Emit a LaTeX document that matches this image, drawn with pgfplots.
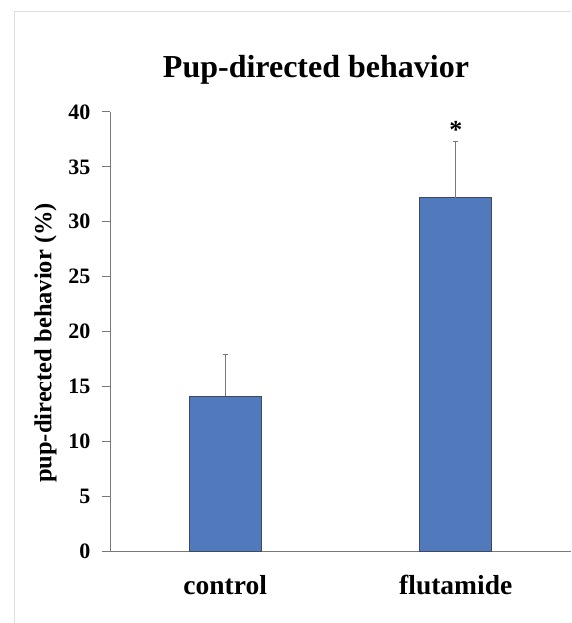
\documentclass[border=0pt]{standalone}
\usepackage{fontspec}
\setmainfont{Liberation Serif}
\usepackage{pgfplots}
\pgfplotsset{compat=1.18}

\definecolor{BarBlue}{RGB}{80,122,188}
\definecolor{BarEdge}{RGB}{62,72,96}
\definecolor{AxisGray}{RGB}{120,120,120}

\begin{document}
\begin{tikzpicture}[x=1pt,y=1pt]
\useasboundingbox (0,0) rectangle (571,623);
\fill[white] (0,0) rectangle (571,623);
% light frame of the original figure
\draw[black!13, line width=1pt] (14,0) -- (14,611) -- (571,611);

\begin{axis}[
    at={(110pt,72pt)}, anchor=south west,
    scale only axis,
    width=461pt, height=439pt,
    xmin=-0.5, xmax=1.5,
    ymin=0, ymax=40,
    ytick={0,5,...,40},
    xtick={0,1},
    xticklabels={control, flutamide},
    axis lines*=left,
    axis line style={AxisGray, line width=1pt},
    tick align=outside,
    major tick length=8pt,
    ytick style={AxisGray, line width=1pt},
    xtick style={draw=none},
    /pgf/number format/assume math mode=true,
    yticklabel style={font=\fontsize{22}{22}\selectfont\bfseries, xshift=-8pt},
    xticklabel style={font=\fontsize{27.5}{27.5}\selectfont\bfseries, yshift=-13pt},
    ylabel={pup-directed behavior (\%)},
    ylabel style={font=\fontsize{24.5}{24.5}\selectfont\bfseries,
        at={(axis description cs:-0.14,0.474)}, anchor=center},
    clip=false,
]
\addplot[ybar, bar width=72pt, fill=BarBlue, draw=BarEdge, line width=0.8pt,
    error bars/.cd, y dir=plus, y explicit,
    error bar style={AxisGray, line width=1pt},
    error mark options={rotate=90, mark size=2.5pt, AxisGray, line width=1pt}]
    coordinates {
    (0,14.1) +- (0,3.8)
    (1,32.2) +- (0,5.1)
};
\node[font=\fontsize{26}{26}\selectfont\bfseries] at (axis cs:1,38.4) {*};
\end{axis}

\node[anchor=base, font=\fontsize{32}{32}\selectfont\bfseries] at (316,545) {Pup-directed behavior};
\end{tikzpicture}
\end{document}
